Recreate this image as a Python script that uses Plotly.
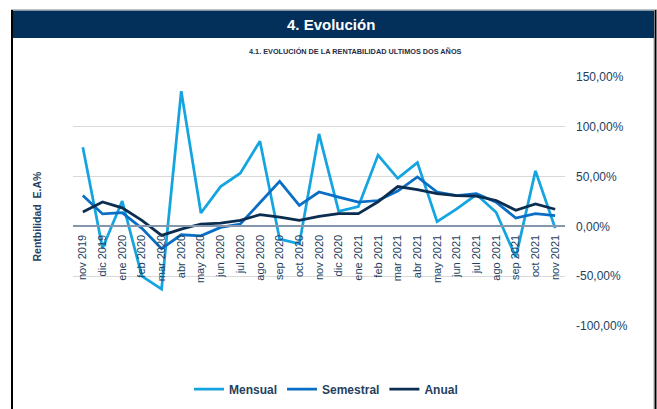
import plotly.graph_objects as go

categories = ["nov 2019", "dic 2019", "ene 2020", "feb 2020", "mar 2020", "abr 2020",
              "may 2020", "jun 2020", "jul 2020", "ago 2020", "sep 2020", "oct 2020",
              "nov 2020", "dic 2020", "ene 2021", "feb 2021", "mar 2021", "abr 2021",
              "may 2021", "jun 2021", "jul 2021", "ago 2021", "sep 2021", "oct 2021",
              "nov 2021"]

mensual = [79.4, -22, 25.5, -50, -63, 135.8, 13.5, 40, 53.4, 85.5, -12.8, -17.6,
           92.9, 15.2, 20, 71.6, 48.3, 64, 4.7, 17.6, 32, 14.2, -31, 55.7, -1.7]
semestral = [31, 12.5, 13.8, -2, -22.3, -8.4, -9.5, -1, 2.4, 23.6, 45.3, 21,
             34.5, 29.4, 24.3, 26, 35.5, 49.7, 34.5, 31, 33, 24.3, 8.4, 12.8, 10.8]
anual = [14.5, 24.5, 18.6, 6, -9, -2.7, 2.4, 3.4, 6, 11.8, 9.3, 6,
         10, 12.8, 12.8, 24.7, 40, 37, 33, 31, 30.4, 26, 16.2, 22.6, 17.2]

y_tickvals = [-100, -50, 0, 50, 100, 150]
y_ticktext = ["-100,00%", "-50,00%", "0,00%", "50,00%", "100,00%", "150,00%"]

series_names = ["Mensual", "Semestral", "Anual"]
series_colors = ["#14A4E0", "#0A6FC4", "#0B2D50"]

W, H = 657, 409
L, R, T, B = 73, 565, 77, 326


def px(x):
    return (x - L) / (R - L)


def py(y):
    return (B - y) / (B - T)


def cx(x):
    return x / W


def cy(y):
    return (H - y) / H


NAVY = "#243F60"
FONT = "Liberation Sans, Arial, sans-serif"

fig = go.Figure()
for name, vals, col in zip(series_names, [mensual, semestral, anual], series_colors):
    fig.add_trace(go.Scatter(x=categories, y=vals, name=name, mode="lines",
                             line=dict(color=col, width=2.75)))

fig.update_layout(
    width=W, height=H,
    margin=dict(l=L, r=W - R, t=T, b=H - B, pad=0, autoexpand=False),
    paper_bgcolor="white", plot_bgcolor="white",
    font=dict(family=FONT, color=NAVY),
    showlegend=True,
    legend=dict(orientation="h", xref="container", yref="container",
                x=cx(189), xanchor="left", y=cy(389), yanchor="middle",
                font=dict(family=FONT, size=12, color=NAVY, weight="bold"),
                bgcolor="rgba(0,0,0,0)", itemwidth=30),
    xaxis=dict(type="category", range=[-0.5, len(categories) - 0.5],
               anchor="free", position=0.4, showgrid=False, automargin=False,
               showline=True, linecolor="#8496AE", linewidth=2,
               tickangle=-90, ticks="", ticklabelstandoff=3,
               tickfont=dict(family=FONT, size=11, color=NAVY)),
    yaxis=dict(range=[-100, 150], side="right", tickvals=y_tickvals, ticktext=y_ticktext,
               showgrid=True, gridcolor="#D9D9D9", gridwidth=1, zeroline=False, automargin=False,
               ticks="", ticklabelstandoff=10,
               tickfont=dict(family=FONT, size=12, color=NAVY)),
)

shapes = [
    # header bar
    dict(type="rect", xref="paper", yref="paper", x0=px(13), x1=px(654), y0=py(10.5), y1=py(38),
         fillcolor="#03305A", line=dict(width=0), layer="below"),
    # top gray line
    dict(type="line", xref="paper", yref="paper", x0=px(11), x1=px(657), y0=py(9.5), y1=py(9.5),
         line=dict(color="#BFBFBF", width=1)),
    # left border
    dict(type="line", xref="paper", yref="paper", x0=px(12), x1=px(12), y0=py(10), y1=py(409),
         line=dict(color="black", width=2)),
    # right border
    dict(type="line", xref="paper", yref="paper", x0=px(655.5), x1=px(655.5), y0=py(10), y1=py(409),
         line=dict(color="black", width=2)),
    dict(type="line", xref="paper", yref="paper", x0=px(653.5), x1=px(653.5), y0=py(38), y1=py(409),
         line=dict(color="#D0D0D0", width=1)),
]
fig.update_layout(shapes=shapes)

fig.add_annotation(text="4. Evolución", xref="paper", yref="paper", x=px(331), y=py(24),
                   showarrow=False, xanchor="center", yanchor="middle",
                   font=dict(family=FONT, size=15, color="white", weight="bold"))
fig.add_annotation(text="4.1. EVOLUCIÓN DE LA RENTABILIDAD ULTIMOS DOS AÑOS", xref="paper", yref="paper",
                   x=px(355), y=py(51), showarrow=False, xanchor="center", yanchor="middle",
                   font=dict(family=FONT, size=7.3, color="#1F2D45", weight="bold"))
fig.add_annotation(text="Rentbilidad  E.A%", xref="paper", yref="paper",
                   x=px(36.5), y=py(216), showarrow=False, textangle=-90,
                   xanchor="center", yanchor="middle",
                   font=dict(family=FONT, size=10.5, color=NAVY, weight="bold"))

fig.write_html("out.html", config={"displayModeBar": False},
               post_script="document.body.style.margin='0';document.body.style.padding='0';"
                           "document.documentElement.style.overflow='hidden';")
